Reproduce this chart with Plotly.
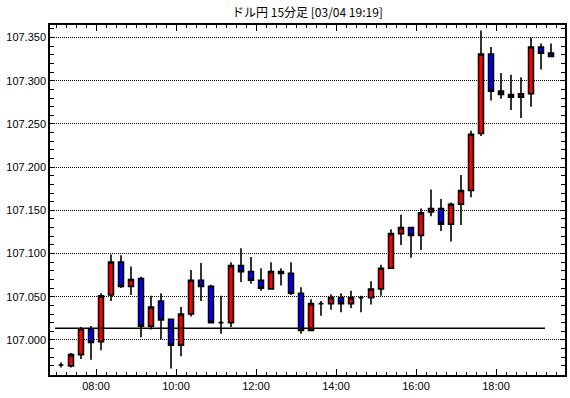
import pandas as pd
import plotly.graph_objects as go

# ---- data (15-minute candles, 03/04) ----
start_times = pd.date_range("2020-03-04 07:00", periods=50, freq="15min")

opens = [106.971, 106.970, 106.983, 107.013, 106.998, 107.052, 107.090, 107.062, 107.071, 107.016,
         107.045, 107.024, 106.994, 107.030, 107.069, 107.062, 107.020, 107.020, 107.086, 107.079,
         107.069, 107.059, 107.079, 107.077, 107.054, 107.011, 107.042, 107.042, 107.049, 107.042,
         107.049, 107.049, 107.059, 107.083, 107.123, 107.130, 107.121, 107.148, 107.152, 107.134,
         107.157, 107.173, 107.239, 107.331, 107.288, 107.284, 107.281, 107.285, 107.339, 107.332]
highs = [106.974, 106.985, 107.015, 107.016, 107.054, 107.099, 107.098, 107.085, 107.073, 107.051,
         107.054, 107.024, 107.038, 107.081, 107.089, 107.064, 107.051, 107.090, 107.106, 107.096,
         107.083, 107.090, 107.083, 107.090, 107.061, 107.047, 107.045, 107.053, 107.054, 107.057,
         107.051, 107.068, 107.087, 107.128, 107.145, 107.130, 107.152, 107.174, 107.163, 107.159,
         107.191, 107.242, 107.358, 107.339, 107.309, 107.307, 107.304, 107.350, 107.343, 107.343]
lows = [106.968, 106.968, 106.978, 106.977, 106.988, 107.045, 107.060, 107.052, 107.003, 107.012,
        107.001, 106.967, 106.981, 107.027, 107.045, 107.020, 107.007, 107.015, 107.067, 107.065,
        107.057, 107.058, 107.063, 107.052, 107.007, 107.011, 107.028, 107.035, 107.032, 107.037,
        107.032, 107.041, 107.051, 107.083, 107.110, 107.095, 107.104, 107.143, 107.126, 107.114,
        107.133, 107.165, 107.236, 107.277, 107.279, 107.266, 107.257, 107.270, 107.313, 107.328]
closes = [106.971, 106.983, 107.013, 106.997, 107.051, 107.090, 107.062, 107.070, 107.016, 107.038,
          107.023, 106.994, 107.030, 107.069, 107.062, 107.020, 107.020, 107.086, 107.079, 107.069,
          107.060, 107.079, 107.077, 107.054, 107.011, 107.042, 107.042, 107.049, 107.042, 107.049,
          107.049, 107.059, 107.083, 107.123, 107.130, 107.121, 107.147, 107.152, 107.134, 107.157,
          107.173, 107.238, 107.331, 107.288, 107.284, 107.281, 107.285, 107.339, 107.332, 107.328]

ref_level = 107.0135
ref_start = "2020-03-04 06:58:30"
ref_end = "2020-03-04 19:13:30"

title_text = "ドル円 15分足 [03/04 19:19]"

# candles drawn at the middle of their 15-minute period
centers = start_times + pd.Timedelta(minutes=7.5)

fig = go.Figure()
fig.add_trace(go.Candlestick(
    x=centers, open=opens, high=highs, low=lows, close=closes,
    increasing=dict(fillcolor="#FF0000", line=dict(color="#000000", width=1.6)),
    decreasing=dict(fillcolor="#0000FF", line=dict(color="#000000", width=1.6)),
    whiskerwidth=0, hoverinfo="skip", showlegend=False,
))
fig.add_trace(go.Scatter(
    x=[ref_start, ref_end], y=[ref_level, ref_level], mode="lines",
    line=dict(color="#000000", width=1.5), hoverinfo="skip", showlegend=False,
))

fig.update_layout(
    width=570, height=398,
    margin=dict(l=50, r=5, t=25, b=23, autoexpand=False),
    paper_bgcolor="#FFFFFF", plot_bgcolor="#FFFFFF",
    font=dict(family="Liberation Sans, Arial, sans-serif", size=11, color="#000000"),
    title=dict(text=title_text, x=0.5, xref="paper", xanchor="center",
               y=1 - 13 / 398, yref="container", yanchor="middle",
               font=dict(family="Noto Sans CJK JP", size=12, color="#000000")),
    showlegend=False,
    hovermode=False,
    boxgap=0.3,
)
fig.update_xaxes(
    type="date",
    range=["2020-03-04 06:51:00", "2020-03-04 19:43:30"],
    rangeslider=dict(visible=False),
    tickformat="%H:%M", dtick=7200000, tick0="2020-03-04 00:00",
    ticks="inside", ticklen=6, tickwidth=1, tickcolor="#000000",
    minor=dict(dtick=900000, tick0="2020-03-04 00:00", ticks="inside", ticklen=3,
               tickwidth=1, tickcolor="#000000", showgrid=False),
    showline=True, linecolor="#000000", linewidth=1.5, mirror="ticks",
    showgrid=False, zeroline=False,
    tickfont=dict(size=11),
)
fig.update_yaxes(
    range=[106.9594, 107.3645],
    dtick=0.05, tick0=107.0, tickformat=".3f",
    ticks="inside", ticklen=4, tickwidth=1, tickcolor="#000000",
    minor=dict(dtick=0.01, tick0=107.0, ticks="inside", ticklen=4,
               tickwidth=1, tickcolor="#000000", showgrid=False),
    showline=True, linecolor="#000000", linewidth=1.5, mirror="ticks",
    showgrid=True, gridcolor="#000000", gridwidth=1, griddash="1px,1px",
    zeroline=False,
    tickfont=dict(size=11),
)

fig.write_html(
    "out.html",
    config={"displayModeBar": False},
    post_script="document.body.style.margin='0';document.body.style.overflow='hidden';",
)
